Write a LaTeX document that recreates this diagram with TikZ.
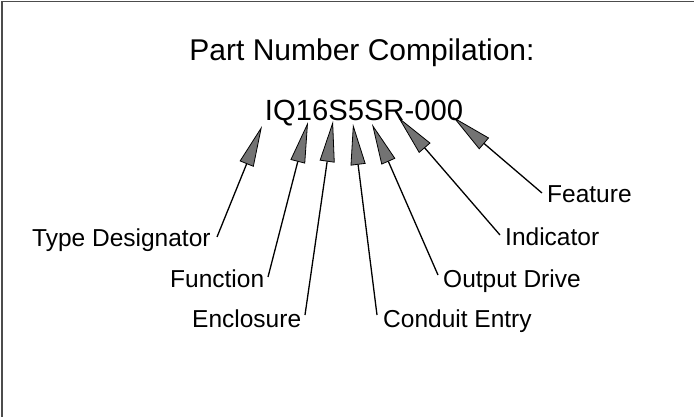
\documentclass[tikz,border=0pt]{standalone}
\usepackage{fontspec}
\setmainfont{Liberation Sans}
\usetikzlibrary{arrows.meta}
\begin{document}
\begin{tikzpicture}[x=1pt,y=-1pt,
  lbl/.style={anchor=base west,inner sep=0pt,font=\fontsize{24.5}{29}\selectfont,text=black},
  conn/.style={line width=1.3pt,draw=black,
    -{Triangle[length=41pt,width=15pt,fill=black!55,line width=0.8pt]}},
  frameline/.style={line width=1.6pt,draw=black!70}]
\useasboundingbox (0,0) rectangle (694,417);
\draw[frameline] (2,417) -- (2,1.5) -- (694,1.5);
\node[anchor=base,inner sep=0pt,font=\fontsize{30}{36}\selectfont,text=black] (title) at (362,61) {Part Number Compilation:};
\node[anchor=base,inner sep=0pt,font=\fontsize{29.2}{35}\selectfont,text=black] (pn) at (364,121) {IQ16S5SR-000};
% labels
\node[lbl] (td) at (32,247) {Type Designator};
\node[lbl] (fn) at (170,287) {Function};
\node[lbl] (en) at (192,327) {Enclosure};
\node[lbl] (ce) at (383,327) {Conduit Entry};
\node[lbl] (od) at (443,287) {Output Drive};
\node[lbl] (in) at (505,245) {Indicator};
\node[lbl] (fe) at (547,203) {Feature};
% arrow tips on the part number
\coordinate (pTD) at (262,126);
\coordinate (pFN) at (308,122);
\coordinate (pEN) at (333,121);
\coordinate (pCE) at (353,124);
\coordinate (pOD) at (372,124);
\coordinate (pIN) at (398,117);
\coordinate (pFE) at (453,117);
% tails next to labels
\coordinate (tTD) at (217,237);
\coordinate (tFN) at (268,277);
\coordinate (tEN) at (305,315);
\coordinate (tCE) at (377,315);
\coordinate (tOD) at (438,275);
\coordinate (tIN) at (500,235);
\coordinate (tFE) at (542,193);
\draw[conn] (tTD) -- (pTD);
\draw[conn] (tFN) -- (pFN);
\draw[conn] (tEN) -- (pEN);
\draw[conn] (tCE) -- (pCE);
\draw[conn] (tOD) -- (pOD);
\draw[conn] (tIN) -- (pIN);
\draw[conn] (tFE) -- (pFE);
\end{tikzpicture}
\end{document}
